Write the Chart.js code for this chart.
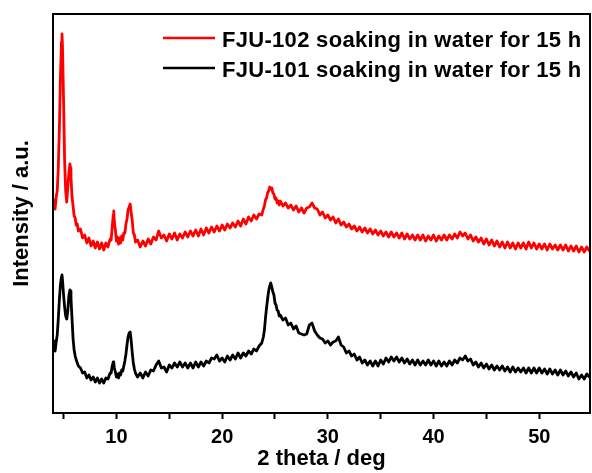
<!DOCTYPE html>
<html>
<head>
<meta charset="utf-8">
<script src="https://cdn.jsdelivr.net/npm/chart.js@4.4.1/dist/chart.umd.min.js"></script>
<style>
  html, body { margin: 0; padding: 0; background: #fff; }
  #c { display: block; }
</style>
</head>
<body>
<canvas id="c" width="592" height="473"></canvas>
<script>
// Powder XRD patterns after 15 h in water (intensity in arbitrary units)
const twoTheta = [
  4.0,4.1,4.2,4.3,4.4,4.5,4.6,4.7,4.8,4.85,4.9,5.0,5.1,5.2,5.3,5.4,5.5,5.6,5.65,5.7,5.8,5.9,6.0,6.1,6.2,6.3,6.4,
  6.6,6.8,7.0,7.2,7.4,7.6,7.8,8.0,8.2,8.4,8.6,8.8,9.0,9.2,9.4,
  9.5,9.6,9.7,9.75,9.8,9.9,10.0,10.1,10.2,10.3,10.4,10.5,10.6,10.7,10.8,10.9,11.0,11.1,11.2,11.3,11.4,11.5,11.6,11.7,11.8,
  12,12.25,12.5,12.75, 13,13.25,13.5,13.75, 14,14.25,14.5,14.75, 15,15.25,15.5,15.75,
  16,16.25,16.5,16.75, 17,17.25,17.5,17.75, 18,18.25,18.5,18.75, 19,19.25,19.5,19.75,
  20,20.25,20.5,20.75, 21,21.25,21.5,21.75, 22,22.25,22.5,22.75, 23,23.25,23.5,23.75,
  23.9,24.0,24.1,24.2,24.3,24.4,24.5,24.6,24.7,24.8,24.9,25.0,25.1,25.2,25.3,25.4,
  25.5,25.75,
  26,26.25,26.5,26.75, 27,27.25,27.5,27.75, 28,28.25,28.5,28.75, 29,29.25,29.5,29.75,
  30,30.25,30.5,30.75, 31,31.25,31.5,31.75, 32,32.25,32.5,32.75, 33,33.25,33.5,33.75,
  34,34.25,34.5,34.75, 35,35.25,35.5,35.75, 36,36.25,36.5,36.75, 37,37.25,37.5,37.75,
  38,38.25,38.5,38.75, 39,39.25,39.5,39.75, 40,40.25,40.5,40.75, 41,41.25,41.5,41.75,
  42,42.25,42.5,42.75, 43,43.25,43.5,43.75, 44,44.25,44.5,44.75, 45,45.25,45.5,45.75,
  46,46.25,46.5,46.75, 47,47.25,47.5,47.75, 48,48.25,48.5,48.75, 49,49.25,49.5,49.75,
  50,50.25,50.5,50.75, 51,51.25,51.5,51.75, 52,52.25,52.5,52.75, 53,53.25,53.5,53.75,
  54,54.25,54.5,54.75
];

const fju102 = [
  206,213,204,216,222,245,283,334,371,379,366,312,252,222,211,226,240,249,245,236,216,207,197,195,188,189,182,
  184,175,178,170,175,167,172,165,171,164,170,163,170,166,174,
  173,186,198,202,192,183,172,176,169,175,170,177,173,180,180,189,194,203,206,209,200,192,180,178,171,
  173,166,172,167, 174,169,176,173, 182,175,178,172, 179,174,180,173,
  179,175,181,176, 182,177,183,177, 184,178,185,180, 186,181,187,182,
  188,183,189,185, 190,186,192,187, 194,189,196,192, 198,194,199,198,
  204,207,213,215,220,222,226,224,225,220,219,214,215,210,212,208,
  212,207,
  210,205,208,203, 207,201,205,200, 205,206,210,205, 204,198,201,195,
  198,193,196,190, 194,188,191,186, 189,184,187,182, 186,181,185,180,
  184,179,183,178, 182,177,181,176, 181,176,180,175, 180,174,179,174,
  178,173,178,173, 178,172,177,173, 178,172,177,173, 178,173,178,174,
  179,175,181,177, 180,174,178,172, 176,171,175,169, 174,168,173,167,
  172,166,171,165, 171,165,170,164, 170,165,170,164, 171,165,170,164,
  169,164,169,163, 169,164,168,163, 168,163,168,162, 167,162,167,161,
  166,161,166,162
];

const fju101 = [
  66,72,62,71,78,94,113,128,136,138,133,118,106,97,94,102,117,123,122,115,94,74,63,57,53,50,47,
  45,40,41,35,38,33,36,31,35,30,34,30,35,34,40,
  40,47,51,50,45,41,36,39,35,40,38,43,42,47,52,59,68,76,80,81,72,60,50,44,40,
  36,40,35,41, 37,43,42,48, 52,45,46,41, 48,45,50,46,
  51,46,50,45, 50,45,51,46, 51,47,52,50, 55,54,58,52,
  55,51,57,53, 58,54,60,55, 60,57,62,59, 64,62,67,70,
  76,83,95,105,114,122,127,130,126,121,118,110,108,103,102,97,
  98,93,
  95,88,90,84, 87,80,79,78, 79,88,90,82, 78,75,74,70,
  72,68,71,72, 76,68,66,60, 62,57,59,53, 56,50,53,48,
  52,47,52,47, 53,49,55,51, 56,52,56,51, 55,50,54,49,
  53,48,53,48, 52,48,53,48, 52,47,52,47, 51,47,52,48,
  53,50,55,53, 57,52,54,48, 51,46,50,45, 49,44,48,43,
  47,43,47,42, 46,41,46,41, 45,41,45,40, 45,40,45,40,
  45,40,44,39, 44,39,43,38, 43,38,42,37, 41,36,40,34,
  38,34,39,36
];

const seriesLabels = [
  'FJU-102 soaking in water for 15 h',
  'FJU-101 soaking in water for 15 h'
];
const seriesColors = ['#ff0000', '#000000'];
const xTickValues = [5, 10, 15, 20, 25, 30, 35, 40, 45, 50];
const xTickLabels = [10, 20, 30, 40, 50];

const FONT = "'Liberation Sans', Arial, Helvetica, sans-serif";
Chart.defaults.font.family = FONT;
Chart.defaults.color = '#000';

// closed frame around the plotting area
const frame = {
  id: 'frame',
  afterDatasetsDraw(chart) {
    const { ctx, chartArea: a } = chart;
    ctx.save();
    ctx.strokeStyle = '#000';
    ctx.lineWidth = 2;
    ctx.strokeRect(a.left, a.top, a.right - a.left, a.bottom - a.top);
    ctx.restore();
  }
};

// line-sample legend placed inside the plot, upper right
const lineLegend = {
  id: 'lineLegend',
  afterDraw(chart) {
    const { ctx, chartArea: a } = chart;
    ctx.save();
    ctx.font = 'bold 22px ' + FONT;
    ctx.textAlign = 'left';
    ctx.textBaseline = 'alphabetic';
    if ('letterSpacing' in ctx) ctx.letterSpacing = '0.3px';
    chart.data.datasets.forEach((ds, i) => {
      const y = a.top + 24 + i * 30;
      ctx.strokeStyle = ds.borderColor;
      ctx.lineWidth = 2.5;
      ctx.beginPath();
      ctx.moveTo(a.left + 110, y);
      ctx.lineTo(a.left + 162, y);
      ctx.stroke();
      ctx.fillStyle = '#000';
      ctx.fillText(ds.label, a.left + 169, y + 8.5);
    });
    ctx.restore();
  }
};

const toPoints = (ys) => twoTheta.map((x, i) => ({ x, y: ys[i] }));

const lineStyle = { borderWidth: 2.8, borderJoinStyle: 'round', borderCapStyle: 'round',
                    pointRadius: 0, tension: 0, fill: false };

new Chart(document.getElementById('c'), {
  type: 'line',
  data: {
    datasets: [
      Object.assign({ label: seriesLabels[0], data: toPoints(fju102), borderColor: seriesColors[0] }, lineStyle),
      Object.assign({ label: seriesLabels[1], data: toPoints(fju101), borderColor: seriesColors[1] }, lineStyle)
    ]
  },
  options: {
    responsive: false,
    devicePixelRatio: 1,
    animation: false,
    events: [],
    layout: { padding: { top: 14, right: 2, left: 0, bottom: 0 } },
    plugins: { legend: { display: false }, tooltip: { enabled: false } },
    scales: {
      x: {
        type: 'linear',
        min: 4,
        max: 54.8,
        afterBuildTicks: (s) => { s.ticks = xTickValues.map((v) => ({ value: v })); },
        afterFit: (s) => { s.height = 60; },
        ticks: {
          autoSkip: false,
          maxRotation: 0,
          padding: 6,
          color: '#000',
          font: { size: 20, weight: 'bold' },
          callback: (v) => (xTickLabels.includes(v) ? String(v) : '')
        },
        grid: { drawOnChartArea: false, tickLength: 6, tickWidth: 2, tickColor: '#000' },
        border: { color: '#000', width: 2 },
        title: {
          display: true,
          text: '2 theta / deg',
          color: '#000',
          font: { size: 22, weight: 'bold' },
          padding: { top: 0, bottom: 1 }
        }
      },
      y: {
        min: 0,
        max: 399,
        afterFit: (s) => { s.width = 53; },
        ticks: { display: false },
        grid: { drawOnChartArea: false, drawTicks: false },
        border: { color: '#000', width: 2 },
        title: {
          display: true,
          text: 'Intensity / a.u.',
          color: '#000',
          font: { size: 22, weight: 'bold' },
          padding: { top: 9, bottom: 0 }
        }
      }
    }
  },
  plugins: [frame, lineLegend]
});
</script>
</body>
</html>
